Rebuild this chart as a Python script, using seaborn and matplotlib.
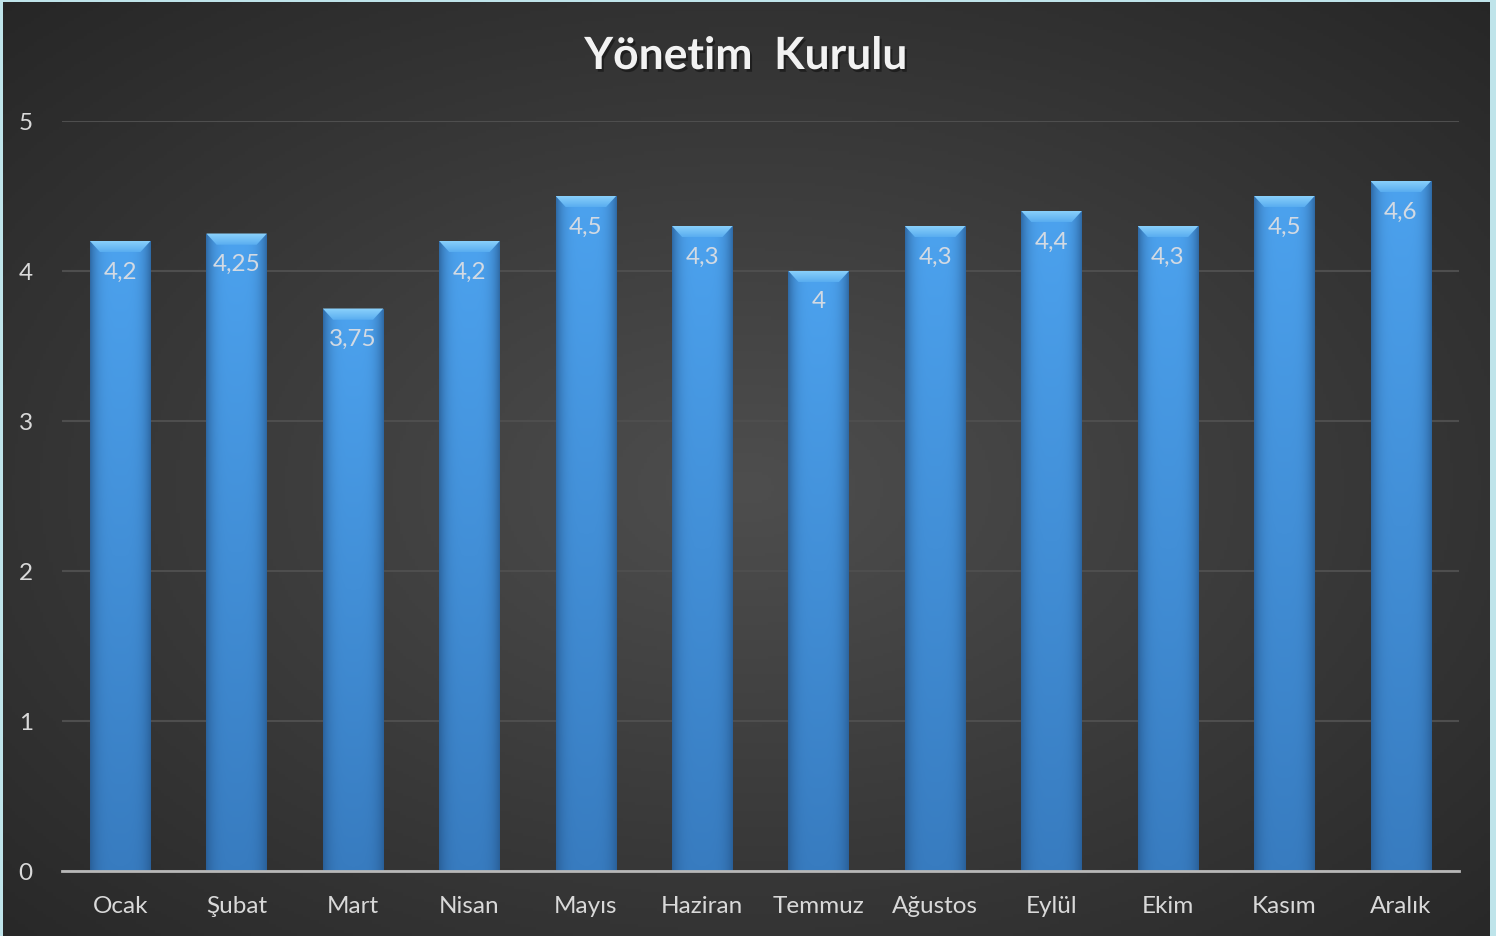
import matplotlib
matplotlib.use("Agg")
import matplotlib.pyplot as plt
import matplotlib.patheffects as pe
from matplotlib.patches import Polygon
import numpy as np
import pandas as pd
import seaborn as sns

# données
aylar = ["Ocak", "Şubat", "Mart", "Nisan", "Mayıs", "Haziran",
         "Temmuz", "Ağustos", "Eylül", "Ekim", "Kasım", "Aralık"]
puanlar = [4.2, 4.25, 3.75, 4.2, 4.5, 4.3, 4.0, 4.3, 4.4, 4.3, 4.5, 4.6]
y_ticks = [0, 1, 2, 3, 4, 5]
baslik = "Yönetim  Kurulu"

df = pd.DataFrame({"Ay": aylar, "Puan": puanlar})

sns.set_theme(style="dark")
plt.rcParams["font.family"] = ["Lato", "DejaVu Sans"]

fig = plt.figure(figsize=(14.96, 9.37), dpi=100)
fig.patch.set_facecolor("#bfe4ea")

# fond sombre avec dégradé radial
bg = fig.add_axes([3 / 1496, 0, 1487 / 1496, 934 / 937], zorder=-5)
yy, xx = np.mgrid[0:1:300j, 0:1:480j]
r = np.sqrt(((xx - 0.5) / 0.75) ** 2 + ((yy - 0.48) / 0.75) ** 2)
r = np.clip(r, 0, 1)
c0 = np.array([0x4e, 0x4e, 0x4e]) / 255
c1 = np.array([0x25, 0x25, 0x25]) / 255
img = c0[None, None, :] * (1 - r[..., None]) + c1[None, None, :] * r[..., None]
bg.imshow(img, aspect="auto", extent=(0, 1, 0, 1), origin="lower")
bg.set_axis_off()

ax = fig.add_axes([62 / 1496, 65 / 937, 1397 / 1496, 750 / 937])
ax.patch.set_alpha(0)

sns.barplot(data=df, x="Ay", y="Puan", color="#4a9be6", width=0.52,
            saturation=1, linewidth=0, ax=ax, zorder=3)

# dégradé des barres
gx = np.linspace(-1, 1, 64)
edge = np.abs(gx) ** 4
top = np.array([0x4c, 0xa2, 0xee]) / 255
bot = np.array([0x38, 0x7c, 0xc0]) / 255
dark = np.array([0x24, 0x55, 0x8a]) / 255
gy = np.linspace(0, 1, 64)[:, None, None]
base = bot * (1 - gy) + top * gy
bar_img = base * (1 - edge[None, :, None] * 0.7) + dark * edge[None, :, None] * 0.7

cap_top = np.array([0x8c, 0xd2, 0xfc]) / 255
cap_bot = np.array([0x5a, 0xae, 0xf0]) / 255
cy = np.linspace(0, 1, 16)[:, None, None]
cap_img = np.repeat(cap_bot * (1 - cy) + cap_top * cy, 4, axis=1)

for p, v in zip(ax.patches, puanlar):
    x0 = p.get_x()
    w = p.get_width()
    h = p.get_height()
    im = ax.imshow(bar_img, extent=(x0, x0 + w, 0, h), origin="lower",
                   aspect="auto", zorder=4)
    im.set_clip_path(p)
    dx = 0.17 * w
    dy = 0.075
    cap = Polygon([(x0, h), (x0 + w, h), (x0 + w - dx, h - dy), (x0 + dx, h - dy)],
                  closed=True, facecolor="none", edgecolor="none", zorder=5)
    ax.add_patch(cap)
    ci = ax.imshow(cap_img, extent=(x0, x0 + w, h - dy, h), origin="lower",
                   aspect="auto", zorder=5)
    ci.set_clip_path(cap)
    etiket = f"{v:g}".replace(".", ",")
    ax.text(x0 + w / 2, h - 0.2, etiket, ha="center", va="center",
            fontsize=17.5, color="#d3dae3", zorder=6)

ax.set_xlim(-0.5, len(aylar) - 0.5)
ax.set_ylim(0, 5)
ax.set_yticks(y_ticks)
ax.set_yticklabels([str(t) for t in y_ticks])
ax.yaxis.grid(True, color="#4e4e4e", linewidth=1.5, zorder=0)
ax.xaxis.grid(False)
ax.set_axisbelow(True)
for s in ["top", "right", "left"]:
    ax.spines[s].set_visible(False)
ax.spines["bottom"].set_color("#b8b8b8")
ax.spines["bottom"].set_linewidth(2)
ax.spines["bottom"].set_zorder(7)
ax.tick_params(axis="x", length=0, pad=17, labelsize=17.5, labelcolor="#d9d9d9")
ax.tick_params(axis="y", length=0, pad=21, labelsize=17.5, labelcolor="#d9d9d9")
ax.set_xlabel("")
ax.set_ylabel("")

fig.text(746 / 1496, 1 - 57 / 937, baslik, ha="center", va="center",
         fontsize=32, fontweight="bold", color="#f2f2f2",
         path_effects=[pe.withSimplePatchShadow(offset=(1.5, -2), shadow_rgbFace="#111111", alpha=0.6)])

fig.savefig("out.png", dpi=100, facecolor=fig.get_facecolor())
